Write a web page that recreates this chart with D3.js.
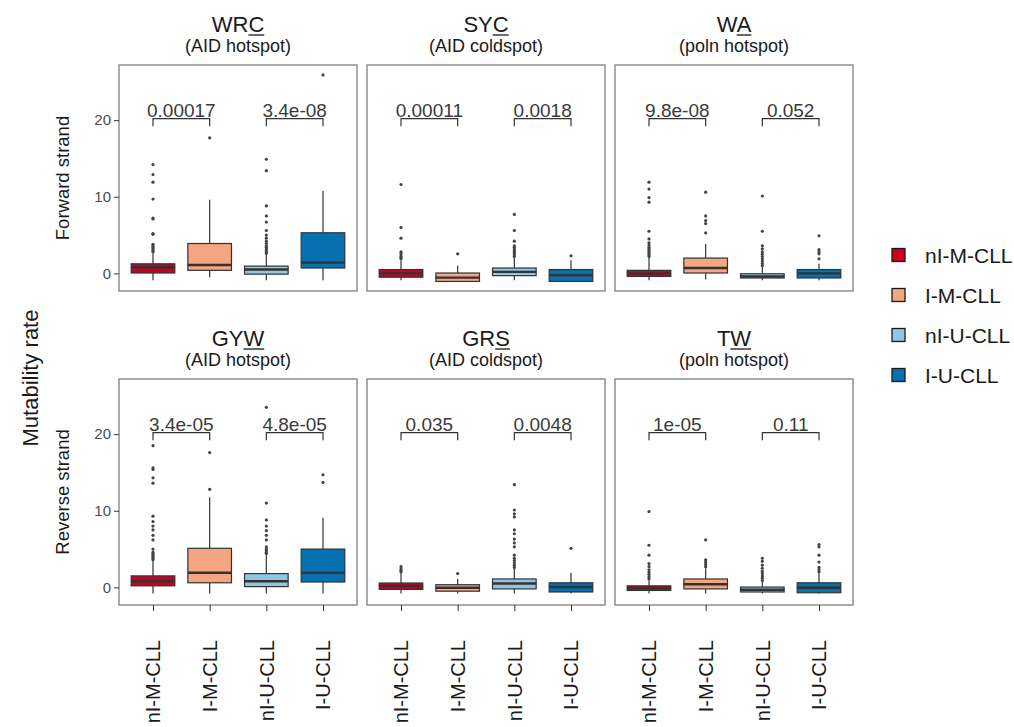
<!DOCTYPE html>
<html>
<head>
<meta charset="utf-8">
<script src="https://cdn.jsdelivr.net/npm/d3@7"></script>
<style>
  html, body { margin: 0; padding: 0; background: #fff; }
  svg { display: block; font-family: "Liberation Sans", Arial, Helvetica, sans-serif; }
</style>
</head>
<body>
<svg id="chart" width="1014" height="727"></svg>
<script>
// ---------- data ----------
const groups = ["nI-M-CLL", "I-M-CLL", "nI-U-CLL", "I-U-CLL"];
const groupColors = ["#CA0020", "#F4A582", "#92C5DE", "#0571B0"];
const motifs = ["WRC", "SYC", "WA", "GYW", "GRS", "TW"];
const motifNotes = ["(AID hotspot)", "(AID coldspot)", "(poln hotspot)", "(AID hotspot)", "(AID coldspot)", "(poln hotspot)"];
const strands = ["Forward strand", "Reverse strand"];
const yTicks = [0, 10, 20];

// box stats per group: [lower whisker, Q1, median, Q3, upper whisker]
const WRC_box = [[-0.9, 0.05, 0.8, 1.25, 2.6], [-0.5, 0.4, 1.1, 3.9, 9.6], [-0.9, -0.1, 0.5, 0.95, 2.4], [-0.9, 0.7, 1.4, 5.3, 10.8]];
const SYC_box = [[-0.9, -0.5, 0.0, 0.5, 1.7], [-1.1, -1.05, -0.55, 0.05, 1.0], [-0.9, -0.3, 0.2, 0.7, 2.0], [-1.1, -1.05, -0.25, 0.5, 1.7]];
const WA_box  = [[-0.9, -0.4, 0.0, 0.4, 2.0], [-0.8, 0.05, 0.7, 2.0, 3.85], [-0.9, -0.6, -0.4, -0.05, 0.8], [-0.9, -0.6, 0.0, 0.5, 1.25]];
const GYW_box = [[-0.8, 0.2, 0.8, 1.5, 3.4], [-0.8, 0.6, 1.9, 5.1, 11.75], [-0.8, 0.1, 0.8, 1.8, 4.2], [-0.8, 0.7, 1.9, 5.0, 9.1]];
const GRS_box = [[-0.8, -0.26, 0.18, 0.57, 1.8], [-0.8, -0.5, -0.05, 0.35, 1.1], [-0.8, -0.2, 0.5, 1.1, 2.4], [-0.8, -0.6, 0.05, 0.6, 1.9]];
const TW_box  = [[-0.8, -0.4, -0.1, 0.2, 0.9], [-0.8, -0.2, 0.4, 1.1, 2.5], [-0.8, -0.6, -0.3, 0.04, 0.7], [-0.8, -0.7, -0.05, 0.6, 1.8]];

// outliers per group
const WRC_out = [[2.8, 3.0, 3.2, 3.4, 3.6, 3.8, 5.1, 5.2, 7.1, 7.2, 9.7, 11.9, 12.9, 14.2], [17.7],
                 [2.6, 2.8, 3.0, 3.2, 3.4, 3.6, 3.9, 4.2, 4.6, 5.0, 5.6, 6.7, 7.5, 8.8, 13.4, 14.9], [25.9]];
const SYC_out = [[1.9, 2.1, 2.3, 2.6, 2.8, 4.6, 6.0, 11.6], [2.55],
                 [2.2, 2.4, 2.6, 2.8, 3.0, 3.2, 3.4, 3.6, 4.2, 5.6, 7.7], [2.3]];
const WA_out  = [[2.2, 2.4, 2.6, 2.8, 3.0, 3.2, 3.4, 3.7, 4.0, 4.5, 5.5, 9.3, 9.9, 11.0, 11.9], [5.3, 6.5, 6.9, 7.5, 10.6],
                 [1.0, 1.3, 1.6, 1.9, 2.2, 2.5, 2.8, 3.2, 3.6, 5.5, 10.1], [1.9, 2.55, 2.8, 3.1, 4.9]];
const GYW_out = [[3.6, 3.8, 4.0, 4.2, 4.4, 4.6, 5.0, 6.2, 6.8, 7.5, 8.0, 8.6, 9.3, 13.6, 14.3, 15.4, 15.6, 18.5], [12.8, 17.6],
                 [4.4, 4.6, 4.8, 5.0, 5.3, 6.2, 6.8, 7.4, 8.0, 8.8, 11.0, 23.5], [13.7, 14.7]];
const GRS_out = [[2.0, 2.2, 2.4, 2.7], [1.8],
                 [2.6, 2.9, 3.2, 3.5, 3.8, 4.2, 5.3, 5.8, 6.3, 7.0, 7.5, 9.2, 9.6, 10.1, 13.4], [5.1]];
const TW_out  = [[1.1, 1.4, 1.7, 2.0, 2.3, 2.7, 3.1, 4.2, 5.5, 9.9], [2.7, 3.0, 3.3, 3.6, 6.2],
                 [0.9, 1.2, 1.5, 1.8, 2.1, 2.5, 2.9, 3.4, 3.8], [2.0, 2.3, 2.6, 3.3, 4.2, 5.3, 5.6]];

// p-values of the comparisons (group 1 vs 2, group 3 vs 4)
const WRC_p = ["0.00017", "3.4e-08"];
const SYC_p = ["0.00011", "0.0018"];
const WA_p  = ["9.8e-08", "0.052"];
const GYW_p = ["3.4e-05", "4.8e-05"];
const GRS_p = ["0.035", "0.0048"];
const TW_p  = ["1e-05", "0.11"];
const bracketLevel = 20.2;

const boxData = [WRC_box, SYC_box, WA_box, GYW_box, GRS_box, TW_box];
const outData = [WRC_out, SYC_out, WA_out, GYW_out, GRS_out, TW_out];
const pData = [WRC_p, SYC_p, WA_p, GYW_p, GRS_p, TW_p];

// ---------- layout ----------
const svg = d3.select("#chart");
const panelLefts = [119, 367, 615];
const panelWidth = 238;
const rowTops = [65, 379];
const panelHeight = 226;
const yDomain = [-2.3, 27.2];
const textDark = "#1a1a1a";
const lineDark = "#333333";

motifs.forEach((m, i) => {
  const col = i % 3, row = Math.floor(i / 3);
  const x0 = panelLefts[col], y0 = rowTops[row];
  const x = d3.scalePoint().domain(groups).range([x0, x0 + panelWidth]).padding(0.6);
  const y = d3.scaleLinear().domain(yDomain).range([y0 + panelHeight, y0]);
  const bw = x.step() * 0.77;
  const g = svg.append("g");

  // panel border
  g.append("rect").attr("x", x0).attr("y", y0).attr("width", panelWidth).attr("height", panelHeight)
    .attr("fill", "#fff").attr("stroke", "#7f7f7f").attr("stroke-width", 1.3);

  // strip titles (last letter underlined)
  const cx = x0 + panelWidth / 2;
  const t = g.append("text").attr("x", cx).attr("y", y0 - 33).attr("text-anchor", "middle")
    .attr("font-size", 22).attr("fill", textDark);
  t.append("tspan").text(m.slice(0, -1));
  const last = t.append("tspan").text(m.slice(-1));
  const full = t.node().getComputedTextLength();
  const lastW = last.node().getComputedTextLength();
  g.append("line")
    .attr("x1", cx + full / 2 - lastW).attr("x2", cx + full / 2)
    .attr("y1", y0 - 30).attr("y2", y0 - 30)
    .attr("stroke", textDark).attr("stroke-width", 1.3);
  g.append("text").attr("x", cx).attr("y", y0 - 13).attr("text-anchor", "middle")
    .attr("font-size", 18).attr("fill", textDark).text(motifNotes[i]);

  // boxes
  groups.forEach((grp, k) => {
    const [lo, q1, med, q3, hi] = boxData[i][k];
    const gx = x(grp);
    g.append("line").attr("x1", gx).attr("x2", gx).attr("y1", y(lo)).attr("y2", y(q1))
      .attr("stroke", lineDark).attr("stroke-width", 1.2);
    g.append("line").attr("x1", gx).attr("x2", gx).attr("y1", y(q3)).attr("y2", y(hi))
      .attr("stroke", lineDark).attr("stroke-width", 1.2);
    g.append("rect").attr("x", gx - bw / 2).attr("y", y(q3)).attr("width", bw)
      .attr("height", Math.max(1, y(q1) - y(q3)))
      .attr("fill", groupColors[k]).attr("stroke", lineDark).attr("stroke-width", 1.2);
    g.append("line").attr("x1", gx - bw / 2).attr("x2", gx + bw / 2).attr("y1", y(med)).attr("y2", y(med))
      .attr("stroke", lineDark).attr("stroke-width", 2.4);
    g.selectAll(null).data(outData[i][k]).join("circle")
      .attr("cx", gx).attr("cy", d => y(d)).attr("r", 1.6).attr("fill", "#444");
  });

  // comparison brackets
  [[0, 1], [2, 3]].forEach(([a, b], j) => {
    const xa = x(groups[a]), xb = x(groups[b]);
    const yb = y(bracketLevel), yt = y(bracketLevel - 1);
    g.append("path").attr("d", `M${xa},${yt}V${yb}H${xb}V${yt}`)
      .attr("fill", "none").attr("stroke", lineDark).attr("stroke-width", 1.2);
    g.append("text").attr("x", (xa + xb) / 2).attr("y", yb - 1.5).attr("text-anchor", "middle")
      .attr("font-size", 19).attr("fill", "#3a3a3a").text(pData[i][j]);
  });

  // y axis on first column
  if (col === 0) {
    const ax = g.append("g").attr("transform", `translate(${x0},0)`)
      .call(d3.axisLeft(y).tickValues(yTicks).tickSize(5).tickPadding(3));
    ax.select(".domain").remove();
    ax.selectAll(".tick line").attr("stroke", lineDark);
    ax.selectAll(".tick text").attr("font-size", 15).attr("fill", "#4d4d4d")
      .attr("font-family", "Liberation Sans, Arial, sans-serif");
    g.append("text")
      .attr("transform", `translate(69,${y0 + panelHeight / 2}) rotate(-90)`)
      .attr("text-anchor", "middle").attr("font-size", 18.5).attr("fill", textDark).text(strands[row]);
  }

  // x axis on bottom row
  if (row === 1) {
    const ax = g.append("g").attr("transform", `translate(0,${y0 + panelHeight})`)
      .call(d3.axisBottom(x).tickSize(6).tickFormat(""));
    ax.select(".domain").remove();
    ax.selectAll(".tick line").attr("stroke", lineDark);
    groups.forEach(grp => {
      g.append("text")
        .attr("transform", `translate(${x(grp)},640) rotate(-90)`)
        .attr("dy", "0.36em").attr("text-anchor", "end")
        .attr("font-size", 20).attr("fill", textDark).text(grp);
    });
  }
});

// overall y title
svg.append("text").attr("transform", "translate(30,378) rotate(-90)")
  .attr("text-anchor", "middle").attr("dy", "0.35em").attr("font-size", 22).attr("fill", textDark)
  .text("Mutability rate");

// legend
const legend = svg.append("g");
groups.forEach((grp, k) => {
  const cy = 255 + k * 40;
  legend.append("rect").attr("x", 892).attr("y", cy - 6.5).attr("width", 13).attr("height", 13)
    .attr("fill", groupColors[k]).attr("stroke", "#1a1a1a").attr("stroke-width", 1.3);
  legend.append("text").attr("x", 925).attr("y", cy).attr("dy", "0.36em")
    .attr("font-size", 21).attr("fill", textDark).text(grp);
});
</script>
</body>
</html>
